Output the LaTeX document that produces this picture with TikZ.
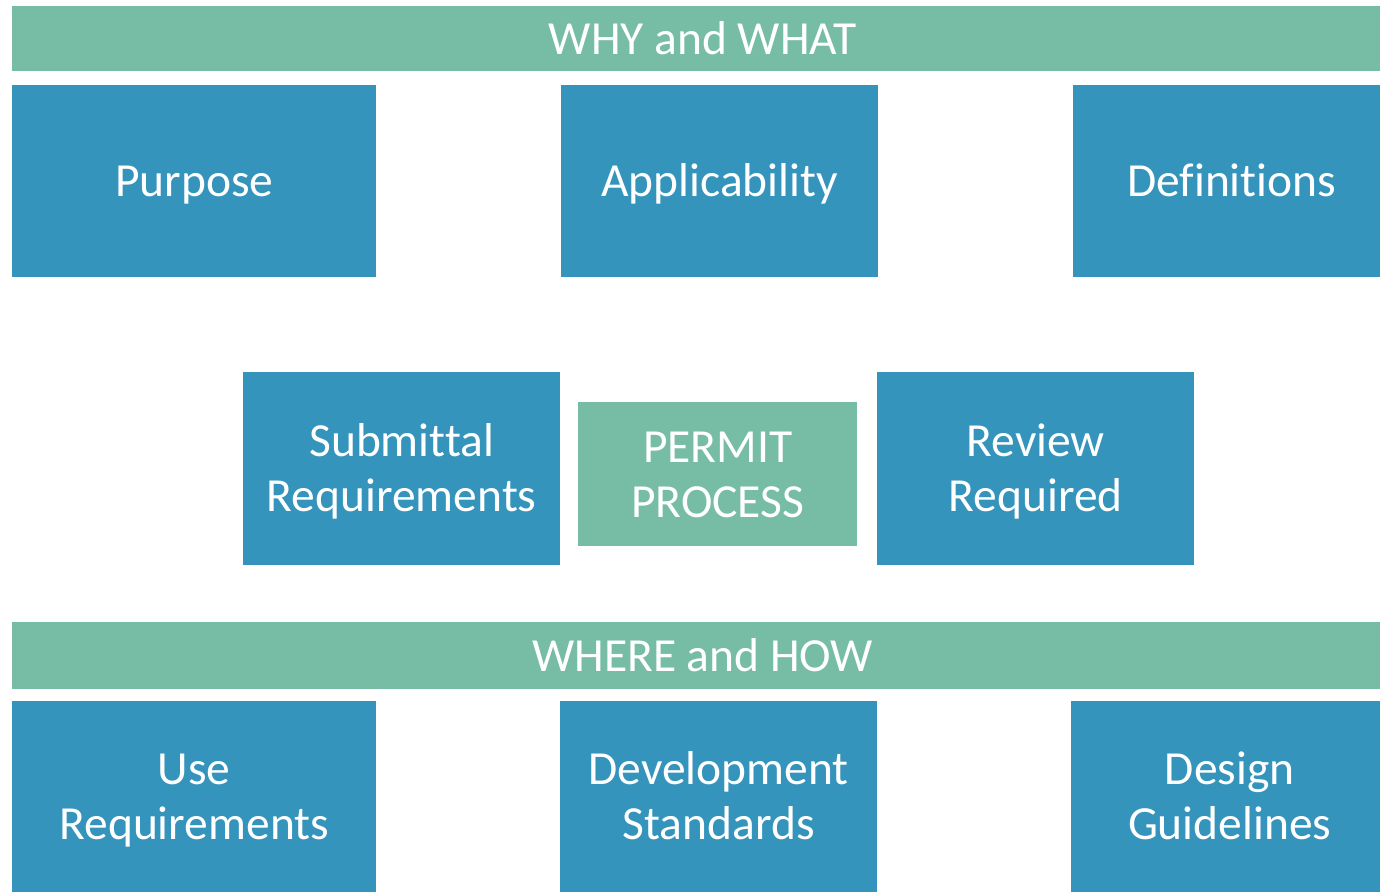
\documentclass[tikz,border=0pt]{standalone}
\usepackage{fontspec}
\setmainfont{Carlito}[Ligatures={NoCommon}]
\definecolor{tealblue}{HTML}{3594BC}
\definecolor{seagreen}{HTML}{77BDA6}
% strut: 44.6pt above the baseline, 14pt below, so that caps are centred
\newcommand\capstr{\rule[-14pt]{0pt}{58.6pt}}
\setlength{\lineskiplimit}{-100pt}
\begin{document}
\begin{tikzpicture}[x=1pt,y=-1pt,
  base/.style={anchor=north west, inner sep=0pt, text=white, align=center,
    font=\fontsize{47.5}{55}\selectfont},
  bluebox/.style={base, fill=tealblue},
  greenbox/.style={base, fill=seagreen},
  bar/.style={base, fill=seagreen}]
\useasboundingbox (0,0) rectangle (1380,892);
\clip (0,0) rectangle (1380,892);
\node[bar, minimum width=1381pt, minimum height=65pt] (why) at (12,6) {\capstr WHY and WHAT};
\node[bluebox, minimum width=364pt, minimum height=192pt] (purpose) at (12,85) {\capstr Purpose};
\node[bluebox, minimum width=317pt, minimum height=192pt] (appl) at (561,85) {\capstr Applicability};
\node[bluebox, minimum width=317pt, minimum height=192pt] (defs) at (1073,85) {\capstr Definitions};
\node[bluebox, minimum width=317pt, minimum height=193pt] (subm) at (243,372) {\capstr Submittal\\\capstr Requirements};
\node[greenbox, minimum width=279pt, minimum height=144pt] (permit) at (578,402) {\capstr PERMIT\\\capstr PROCESS};
\node[bluebox, minimum width=317pt, minimum height=193pt] (review) at (877,372) {\capstr Review\\\capstr Required};
\node[bar, minimum width=1381pt, minimum height=67pt] (where) at (12,622) {\capstr WHERE and HOW};
\node[bluebox, minimum width=364pt, minimum height=191pt] (use) at (12,701) {\capstr Use\\\capstr Requirements};
\node[bluebox, minimum width=317pt, minimum height=191pt] (dev) at (560,701) {\capstr Development\\\capstr Standards};
\node[bluebox, minimum width=317pt, minimum height=191pt] (design) at (1071,701) {\capstr Design\\\capstr Guidelines};
\end{tikzpicture}
\end{document}
